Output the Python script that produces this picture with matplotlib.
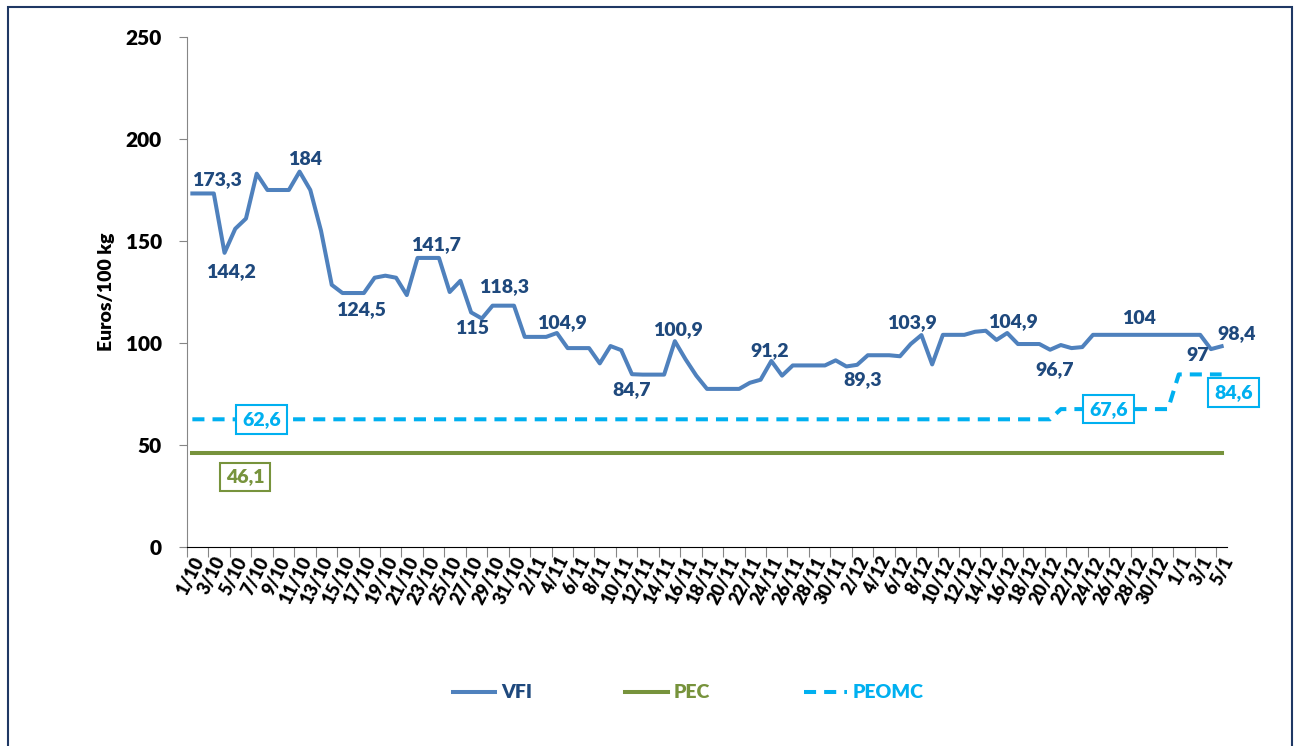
import matplotlib.pyplot as plt
from matplotlib.patches import Rectangle

plt.rcParams['font.family'] = ['Lato', 'DejaVu Sans']

# Data (daily, 1/10 to 5/1)
vfi = [173.3, 173.3, 173.3, 144.2, 156, 161, 183, 175, 175, 175,
       184, 175, 155, 128.5, 124.5, 124.5, 124.5, 132, 133, 132,
       123.5, 141.7, 141.7, 141.7, 125, 130.5, 115, 112, 118.3, 118.3,
       118.3, 103, 103, 103, 104.9, 97.5, 97.5, 97.5, 90, 98.5,
       96.5, 84.7, 84.5, 84.5, 84.5, 100.9, 92, 84, 77.5, 77.5,
       77.5, 77.5, 80.5, 82, 91.2, 84, 89, 89, 89, 89,
       91.5, 88.5, 89.3, 94, 94, 94, 93.5, 99.5, 103.9, 89.5,
       104, 104, 104, 105.5, 106, 101.5, 104.9, 99.5, 99.5, 99.5,
       96.7, 99, 97.5, 98, 104, 104, 104, 104, 104, 104,
       104, 104, 104, 104, 104, 97, 98.4]
pec = [46.1] * 97
peomc = [62.6] * 81 + [67.6] * 11 + [84.6] * 5

tick_labels = ['1/10', '3/10', '5/10', '7/10', '9/10', '11/10', '13/10', '15/10',
               '17/10', '19/10', '21/10', '23/10', '25/10', '27/10', '29/10', '31/10',
               '2/11', '4/11', '6/11', '8/11', '10/11', '12/11', '14/11', '16/11',
               '18/11', '20/11', '22/11', '24/11', '26/11', '28/11', '30/11',
               '2/12', '4/12', '6/12', '8/12', '10/12', '12/12', '14/12', '16/12',
               '18/12', '20/12', '22/12', '24/12', '26/12', '28/12', '30/12',
               '1/1', '3/1', '5/1']

# labelled points: index, text offset in pixels (dx, dy; dy positive = down)
vfi_labels = [(2, 3, -14), (3, 6, 19), (10, 5, -12), (15, 8, 17), (22, 8, -13),
              (26, 1, 16), (29, 1, -19), (34, 5, -10), (41, 0, 15), (45, 3, -12),
              (54, -2, -10), (62, 6, 15), (68, -10, -12), (76, 6, -11), (80, 5, 20),
              (88, 3, -16), (95, -13, 6), (96, 15, -13)]

c_vfi = '#4F81BD'
c_vfi_txt = '#1F497D'
c_pec = '#77933C'
c_peomc = '#00B0F0'

x = list(range(len(vfi)))

fig = plt.figure(figsize=(12.98, 7.46), dpi=100)
ax = fig.add_axes([187 / 1298, 1 - 547 / 746, 1040 / 1298, 510 / 746])

ax.plot(x, vfi, color=c_vfi, lw=2.9, label='VFI', solid_joinstyle='round')
ax.plot(x, pec, color=c_pec, lw=2.9, label='PEC')
ax.plot(x, peomc, color=c_peomc, lw=2.9, ls=(0, (3, 2)), label='PEOMC')

px = 0.72  # points per pixel


def fmt(v):
    s = f'{v:g}'
    return s.replace('.', ',')


for i, dx, dy in vfi_labels:
    ax.annotate(fmt(vfi[i]), (x[i], vfi[i]), xytext=(dx * px, -dy * px),
                textcoords='offset points', ha='center', va='center',
                fontsize=14, fontweight='heavy', color=c_vfi_txt)

box_labels = [(peomc, 6, 5, 0, c_peomc), (peomc, 86, -6, 0, c_peomc),
              (peomc, 96, 12, 18, c_peomc), (pec, 5, -1, 24, c_pec)]
for series, i, dx, dy, col in box_labels:
    ax.annotate(fmt(series[i]), (x[i], series[i]), xytext=(dx * px, -dy * px),
                textcoords='offset points', ha='center', va='center',
                fontsize=14, fontweight='heavy', color=col,
                bbox=dict(boxstyle='square,pad=0.3', fc='white', ec=col, lw=1.5))

ax.set_xlim(-0.5, len(vfi) - 0.5)
ax.set_ylim(0, 250)
ax.set_yticks(range(0, 251, 50))
ax.tick_params(axis='y', labelsize=15, length=6, color='#868686', pad=12)
for t in ax.get_yticklabels():
    t.set_fontweight('heavy')

ax.set_xticks([k - 0.5 for k in range(0, len(vfi), 2)])
ax.set_xticklabels([])
ax.tick_params(axis='x', which='major', length=7, color='#868686')
ax.set_xticks(list(range(0, len(vfi), 2)), minor=True)
ax.set_xticklabels(tick_labels, minor=True, rotation=63, ha='right', va='top',
                   rotation_mode='anchor', fontsize=13, fontweight='heavy')
ax.tick_params(axis='x', which='minor', length=0, pad=5)

ax.spines['top'].set_visible(False)
ax.spines['right'].set_visible(False)
ax.spines['left'].set_color('#868686')
ax.spines['bottom'].set_color('black')

ax.set_ylabel('Euros/100 kg', fontsize=14, fontweight='heavy', labelpad=8)

leg = fig.legend(loc='center', bbox_to_anchor=(0.53, 1 - 693 / 746), ncol=3,
                 frameon=False, fontsize=14, handlelength=2.2, handletextpad=0.3,
                 columnspacing=4.8, labelcolor=[c_vfi_txt, c_pec, c_peomc])
for t in leg.get_texts():
    t.set_fontweight('heavy')

fig.patches.append(Rectangle((8 / 1298, -0.1), 1284 / 1298, 1.1 - 7 / 746,
                             transform=fig.transFigure, fill=False,
                             ec='#1F3864', lw=1.5))

fig.savefig('out.png', dpi=100)
